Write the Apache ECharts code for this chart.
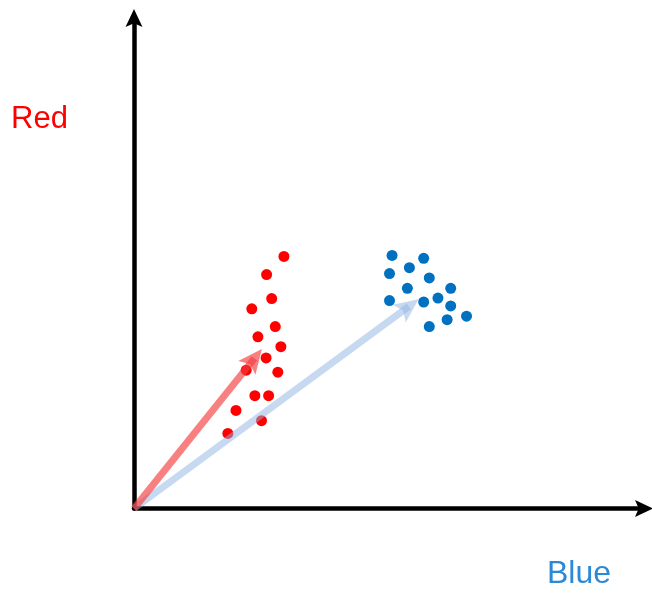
<!DOCTYPE html>
<html>
<head>
<meta charset="utf-8">
<script src="https://cdn.jsdelivr.net/npm/echarts@6/dist/echarts.min.js"></script>
<style>html,body{margin:0;padding:0;background:#fff;}#c{width:652px;height:595px;}</style>
</head>
<body>
<div id="c"></div>
<script>
// Red cluster points [x, y]
const redPoints = [
  [2.94, 5.14], [2.60, 4.77], [2.70, 4.28], [2.31, 4.07], [2.77, 3.71],
  [2.43, 3.50], [2.88, 3.30], [2.59, 3.07], [2.20, 2.82], [2.82, 2.78],
  [2.37, 2.30], [2.64, 2.30], [2.00, 2.00], [2.50, 1.79], [1.84, 1.53]
];
// Blue cluster points [x, y]
const bluePoints = [
  [5.06, 5.16], [5.68, 5.10], [5.40, 4.91], [5.01, 4.79], [5.79, 4.70],
  [5.36, 4.49], [6.21, 4.49], [5.01, 4.24], [5.68, 4.21], [5.96, 4.29],
  [6.21, 4.13], [6.52, 3.92], [6.14, 3.85], [5.79, 3.71]
];
// Mean vectors (arrow end points)
const origin = [0, 0];
const redVector = [2.36, 3.06];
const blueVector = [5.39, 4.12];
// Axis names
const xName = 'Blue';
const yName = 'Red';

const arrowPath = 'path://M8,0 L16,17 L8,13.5 L0,17 Z';
const chart = echarts.init(document.getElementById('c'), null, {renderer: 'canvas'});
function axis() {
  return {
    type: 'value', min: 0, max: 10,
    axisLine: {show: true, onZero: false, lineStyle: {color: '#000', width: 4.5},
               symbol: ['none', arrowPath], symbolSize: [20, 18]},
    axisTick: {show: false}, axisLabel: {show: false}, splitLine: {show: false}
  };
}
chart.setOption({
  animation: false,
  backgroundColor: '#fff',
  grid: {left: 134, right: 8, top: 18, bottom: 86.5, containLabel: false},
  xAxis: axis(),
  yAxis: axis(),
  graphic: [
    {type: 'text', left: 11, top: 104, style: {text: yName, font: '31px "Liberation Sans", Arial, sans-serif', fill: '#ff0000'}},
    {type: 'text', left: 547, top: 558, style: {text: xName, font: '32px "Liberation Sans", Arial, sans-serif', fill: '#2b89d6'}}
  ],
  series: [
    {type: 'scatter', data: redPoints, symbolSize: 11, itemStyle: {color: '#ff0000', opacity: 1}, z: 2},
    {type: 'scatter', data: bluePoints, symbolSize: 11, itemStyle: {color: '#0070c0', opacity: 1}, z: 2},
    {type: 'scatter', data: [], z: 3,
     markLine: {silent: true, symbol: ['none', arrowPath], symbolSize: [22, 24], label: {show: false},
       animation: false,
       data: [
         [{coord: origin, lineStyle: {color: 'rgba(141,180,226,0.5)', width: 7, type: 'solid'}, itemStyle: {color: 'rgba(141,180,226,0.5)'}}, {coord: blueVector}],
         [{coord: origin, lineStyle: {color: 'rgba(245,60,60,0.65)', width: 7, type: 'solid'}, itemStyle: {color: 'rgba(245,60,60,0.65)'}}, {coord: redVector}]
       ]}}
  ]
});
</script>
</body>
</html>
